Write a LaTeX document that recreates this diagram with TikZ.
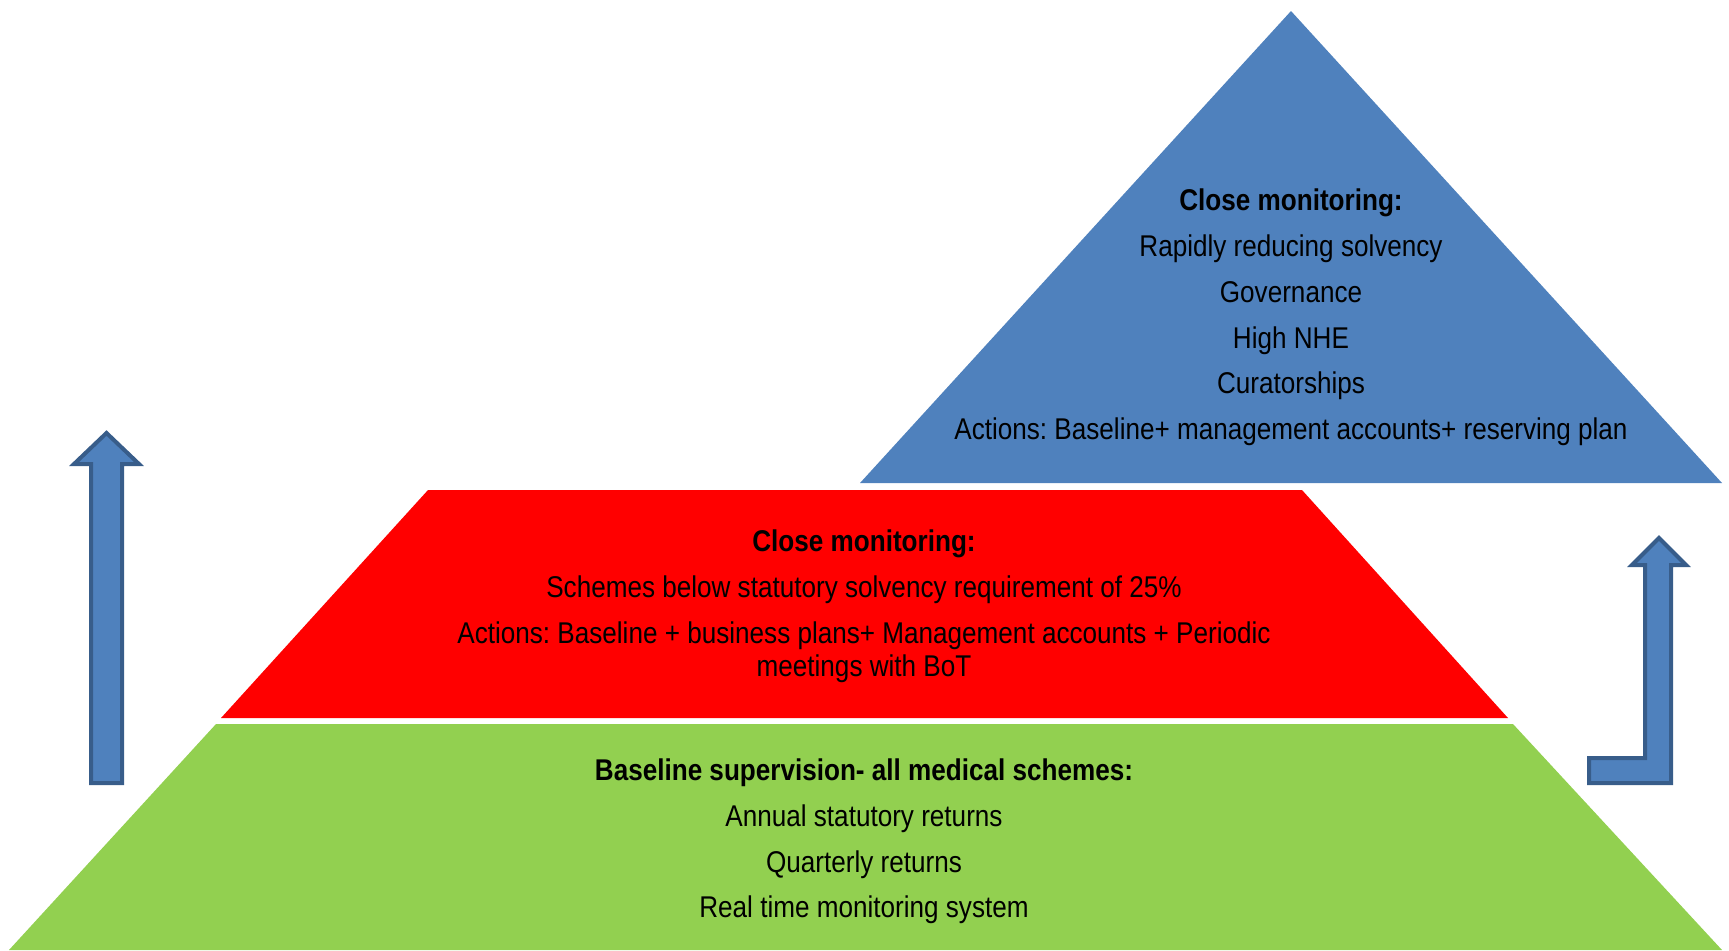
\documentclass[tikz,border=0pt]{standalone}
\usepackage{fontspec}
\setmainfont[FakeStretch=0.87]{Liberation Sans}
\usepackage{tikz}
\frenchspacing
\definecolor{topblue}{HTML}{4F81BD}
\definecolor{midred}{HTML}{FF0000}
\definecolor{basegreen}{HTML}{92D050}
\definecolor{arrowedge}{HTML}{385D8A}

\begin{document}
\begin{tikzpicture}[
            x=0.5pt, y=-0.5pt,
            tier/.style = {align=center, inner sep=0pt, text=black,
                    font=\fontsize{15}{16.5}\selectfont},
            bigarrow/.style = {fill=topblue, draw=arrowedge, line width=2pt, miter limit=4}
        ]
        \useasboundingbox (0,0) rectangle (1729,950);

        % pyramid
        \fill[basegreen] (216,724) -- (1513,724) -- (1722,950) -- (9,950) -- cycle;
        \fill[midred]    (428,490) -- (1302,490) -- (1508,718) -- (221,718) -- cycle;
        \fill[topblue]   (1291,11) -- (1722,483) -- (860,483) -- cycle;

        \node (top) [tier] at (1291,317.5) {\textbf{Close monitoring:}\\[6.4pt]
                Rapidly reducing solvency\\[6.4pt] Governance\\[6.4pt] High NHE\\[6.4pt] Curatorships\\[6.4pt]
                Actions: Baseline+ management accounts+ reserving plan};
        \node (mid) [tier] at (864,606.5) {\textbf{Close monitoring:}\\[6.4pt]
                Schemes below statutory solvency requirement of 25\%\\[6.4pt]
                Actions: Baseline + business plans+ Management accounts + Periodic\\
                meetings with BoT};
        \node (base) [tier] at (864,841.5) {\textbf{Baseline supervision- all medical schemes:}\\[6.4pt]
                Annual statutory returns\\[6.4pt] Quarterly returns\\[6.4pt] Real time monitoring system};

        % arrows
        \draw[bigarrow] (91,783) -- (91,464) -- (74,464) -- (106.5,433) -- (139,464)
                -- (122,464) -- (122,783) -- cycle;
        \draw[bigarrow] (1589,783) -- (1589,758) -- (1645,758) -- (1645,565) -- (1632,565)
                -- (1659,538) -- (1686,565) -- (1671,565) -- (1671,783) -- cycle;
    \end{tikzpicture}
\end{document}
